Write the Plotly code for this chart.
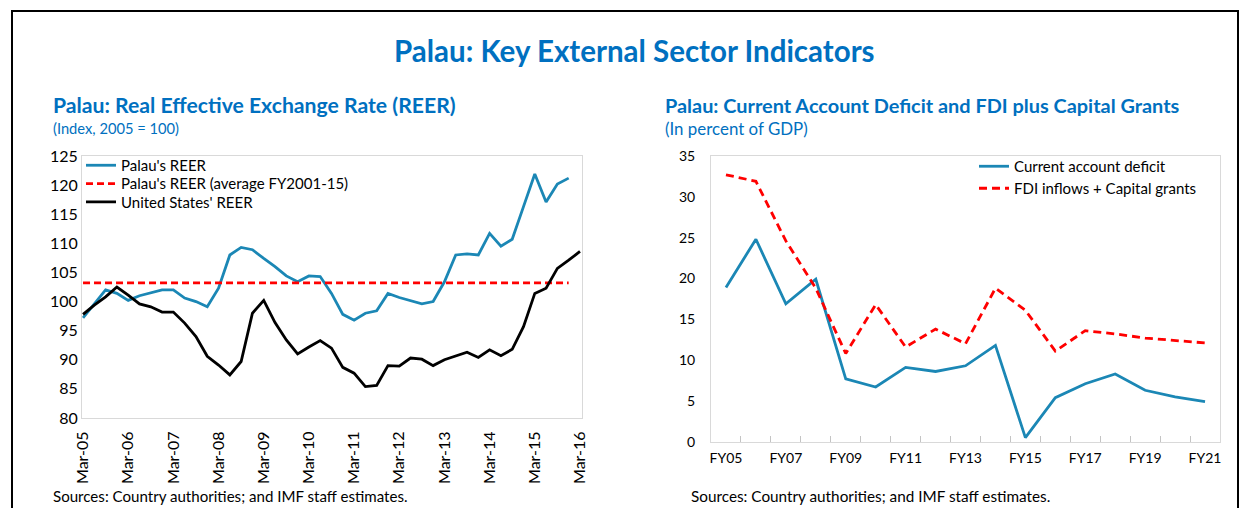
import plotly.graph_objects as go

W, H = 1247, 508
FONT = "Lato"
BLUE_T = "#0070C0"
LINE_BLUE = "#1B87B5"
RED = "#FF0000"

# ---------- Left chart data (quarterly, Mar-05 .. Mar-16) ----------
quarter_ticks = ["Mar-05", "Mar-06", "Mar-07", "Mar-08", "Mar-09", "Mar-10",
                 "Mar-11", "Mar-12", "Mar-13", "Mar-14", "Mar-15", "Mar-16"]
palau_reer = [97.2, 99.6, 102.0, 101.4, 100.2, 101.0, 101.5, 102.0, 102.0, 100.6,
              100.0, 99.1, 102.3, 108.0, 109.3, 108.9, 107.4, 106.0, 104.4, 103.4,
              104.4, 104.3, 101.4, 97.8, 96.8, 98.0, 98.4, 101.4, 100.7, 100.2,
              99.6, 100.0, 103.4, 108.0, 108.2, 108.0, 111.7, 109.5, 110.7, 116.3,
              121.9, 117.1, 120.2, 121.2]
us_reer = [97.8, 99.4, 100.8, 102.5, 101.1, 99.6, 99.1, 98.2, 98.2, 96.3,
           94.0, 90.6, 89.1, 87.4, 89.7, 98.0, 100.2, 96.4, 93.4, 91.0,
           92.2, 93.3, 92.0, 88.7, 87.7, 85.4, 85.6, 89.0, 88.9, 90.3,
           90.1, 89.0, 90.0, 90.7, 91.3, 90.4, 91.7, 90.7, 91.8, 95.7,
           101.4, 102.3, 105.7, 107.1, 108.6]
palau_avg = 103.2

# ---------- Right chart data (FY05 .. FY21) ----------
fy_labels = ["FY05", "FY06", "FY07", "FY08", "FY09", "FY10", "FY11", "FY12", "FY13",
             "FY14", "FY15", "FY16", "FY17", "FY18", "FY19", "FY20", "FY21"]
ca_deficit = [18.9, 24.8, 16.9, 19.9, 7.7, 6.7, 9.1, 8.6, 9.3, 11.8, 0.5, 5.4,
              7.1, 8.3, 6.3, 5.5, 4.9]
fdi_grants = [32.7, 31.9, 24.6, 18.8, 10.8, 16.8, 11.6, 13.8, 12.0, 18.8, 16.1, 11.1,
              13.6, 13.2, 12.7, 12.4, 12.1]

palau_x = list(range(len(palau_reer)))
us_x = list(range(len(us_reer)))
fy_x = list(range(len(fy_labels)))
fy_bounds = [i - 0.5 for i in range(len(fy_labels) + 1)]

fig = go.Figure()

fig.add_trace(go.Scatter(x=palau_x, y=palau_reer, mode="lines", name="Palau's REER",
                         line=dict(color=LINE_BLUE, width=2.8), xaxis="x", yaxis="y",
                         legend="legend"))
fig.add_trace(go.Scatter(x=palau_x, y=[palau_avg] * len(palau_x), mode="lines",
                         name="Palau's REER (average FY2001-15)",
                         line=dict(color=RED, width=2.8, dash="7px,4px"),
                         xaxis="x", yaxis="y", legend="legend2"))
fig.add_trace(go.Scatter(x=us_x, y=us_reer, mode="lines", name="United States' REER",
                         line=dict(color="#000000", width=2.8), xaxis="x", yaxis="y",
                         legend="legend3"))

fig.add_trace(go.Scatter(x=fy_x, y=ca_deficit, mode="lines", name="Current account deficit",
                         line=dict(color=LINE_BLUE, width=2.8), xaxis="x2", yaxis="y2",
                         legend="legend4"))
fig.add_trace(go.Scatter(x=fy_x, y=fdi_grants, mode="lines",
                         name="FDI inflows + Capital grants",
                         line=dict(color=RED, width=2.8, dash="8px,5px"),
                         xaxis="x2", yaxis="y2", legend="legend5"))

def px_x(p):
    return p / W

def px_y(p):
    return 1 - p / H

left_font = dict(family=FONT, size=16, color="#000000")
right_font = dict(family=FONT, size=14, color="#000000")
frame = "#D9D9D9"

def leg(xp, yp, size):
    return dict(x=px_x(xp), y=px_y(yp), xanchor="left", yanchor="top",
                bgcolor="rgba(0,0,0,0)", font=dict(family=FONT, size=size, color="#000"),
                itemwidth=30)

fig.update_layout(
    template="none",
    width=W, height=H,
    margin=dict(l=0, r=0, t=0, b=0, pad=0, autoexpand=False),
    paper_bgcolor="white", plot_bgcolor="white",
    font=dict(family=FONT, color="#000000"),
    showlegend=True,
    xaxis=dict(domain=[px_x(82), px_x(582)], range=[-0.09, 44.18],
               tickvals=[i * 4 for i in range(len(quarter_ticks))], ticktext=quarter_ticks,
               tickangle=-90, tickfont=left_font, showgrid=False, zeroline=False,
               showline=True, linecolor=frame, linewidth=1, mirror=True, ticks="",
               ticklabelstandoff=6, automargin=False, anchor="y"),
    yaxis=dict(domain=[px_y(418), px_y(156)], range=[80, 125], dtick=5,
               tickfont=left_font, showgrid=False, zeroline=False, showline=True,
               linecolor=frame, linewidth=1, mirror=True, ticks="", automargin=False,
               anchor="x"),
    xaxis2=dict(domain=[px_x(711), px_x(1220)], range=[-0.5, 16.5],
                tickmode="array", tickvals=fy_x[::2], ticktext=fy_labels[::2], tickangle=0,
                tickfont=right_font, showgrid=False, zeroline=False, showline=True,
                linecolor=frame, linewidth=1, mirror=True,
                ticks="inside", ticklen=0, tickcolor="#C4C4C4",
                ticklabelstandoff=3, automargin=False,
                minor=dict(ticks="inside", tickmode="array", tickvals=fy_bounds, ticklen=6,
                           tickcolor="#C4C4C4", tickwidth=1, showgrid=False),
                anchor="y2"),
    yaxis2=dict(domain=[px_y(441.7), px_y(156)], range=[0, 35], dtick=5,
                tickfont=right_font, showgrid=False, zeroline=False, showline=True,
                linecolor=frame, linewidth=1, mirror=True, ticks="",
                ticklabelstandoff=12, automargin=False, anchor="x2"),
    legend=leg(81, 149, 15),
    legend2=leg(81, 167.3, 15),
    legend3=leg(81, 185.6, 15),
    legend4=leg(974, 150, 15),
    legend5=leg(974, 172, 15),
)

ann = []
ann.append(dict(text="<b>Palau: Key External Sector Indicators</b>", x=px_x(634), y=px_y(50),
                xref="paper", yref="paper", showarrow=False, xanchor="center", yanchor="middle",
                font=dict(family=FONT, size=29.5, color=BLUE_T)))
ann.append(dict(text="<b>Palau: Real Effective Exchange Rate (REER)</b>", x=px_x(51), y=px_y(105),
                xref="paper", yref="paper", showarrow=False, xanchor="left", yanchor="middle",
                font=dict(family=FONT, size=21.2, color=BLUE_T)))
ann.append(dict(text="(Index, 2005 = 100)", x=px_x(51), y=px_y(128),
                xref="paper", yref="paper", showarrow=False, xanchor="left", yanchor="middle",
                font=dict(family=FONT, size=14.7, color=BLUE_T)))
ann.append(dict(text="<b>Palau: Current Account Deficit and FDI plus Capital Grants</b>",
                x=px_x(663), y=px_y(105), xref="paper", yref="paper", showarrow=False,
                xanchor="left", yanchor="middle", font=dict(family=FONT, size=19.9, color=BLUE_T)))
ann.append(dict(text="(In percent of GDP)", x=px_x(663), y=px_y(128),
                xref="paper", yref="paper", showarrow=False, xanchor="left", yanchor="middle",
                font=dict(family=FONT, size=16.9, color=BLUE_T)))
for sx, fs in ((51, 15.1), (689, 15.3)):
    ann.append(dict(text="Sources: Country authorities; and IMF staff estimates.",
                    x=px_x(sx), y=px_y(496), xref="paper", yref="paper", showarrow=False,
                    xanchor="left", yanchor="middle",
                    font=dict(family=FONT, size=fs, color="#000")))
fig.update_layout(annotations=ann)

fig.update_layout(shapes=[
    dict(type="rect", xref="paper", yref="paper", x0=px_x(12), x1=px_x(1238),
         y0=px_y(520), y1=px_y(11), line=dict(color="#000", width=2), fillcolor="rgba(0,0,0,0)"),
])

fig.write_html("out.html", config={"displayModeBar": False},
               post_script="document.body.style.margin='0px';document.body.style.overflow='hidden';")
